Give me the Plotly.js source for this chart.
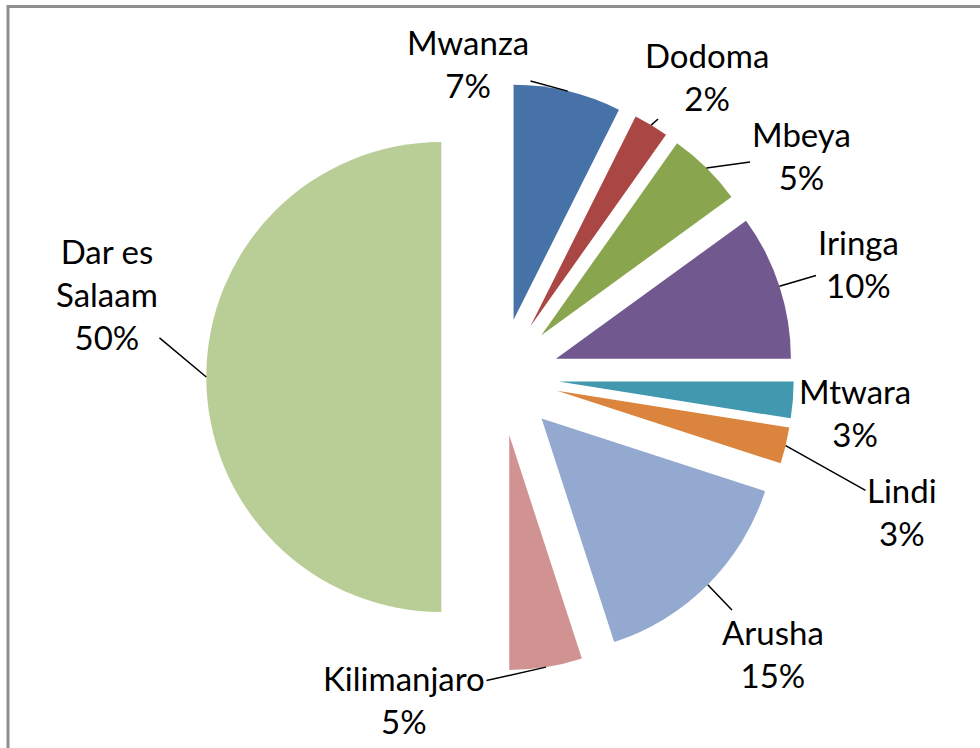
<!DOCTYPE html>
<html>
<head>
<meta charset="utf-8">
<script src="https://cdn.plot.ly/plotly-3.0.1.min.js"></script>
<style>
  html, body { margin: 0; padding: 0; background: #fff; }
  #chart { width: 980px; height: 748px; }
</style>
</head>
<body>
<div id="chart"></div>
<script>
// data (percent share by region; labels show rounded values)
let regions = ["Mwanza", "Dodoma", "Mbeya", "Iringa", "Mtwara", "Lindi", "Arusha", "Kilimanjaro", "Dar es Salaam"];
let shares = [7.4, 2.4, 5.2, 10.0, 2.5, 2.5, 15.0, 5.0, 50.0];
let labelLines = ["Mwanza", "Dodoma", "Mbeya", "Iringa", "Mtwara", "Lindi", "Arusha", "Kilimanjaro", "Dar es<br>Salaam"];
let sliceColors = ["#4672A8", "#AA4643", "#89A54E", "#71588F", "#4198AF", "#DB843D", "#93A9CF", "#D19392", "#B9CD96"];

// label placement (pixel centre of each label block) and which ones get a leader line
let labelPos = [[468, 64], [707, 76], [801, 155], [858, 263], [855, 412], [902, 511], [773, 653], [404, 699], [107, 294]];
let showLeader = [true, true, true, true, false, true, true, true, true];

const W = 980, H = 748;
const pull = 0.25;
const domX = [0.2105, 0.81];
const domY = [0.103, 0.889];

let trace = {
    type: "pie",
    labels: regions,
    values: shares,
    sort: false,
    direction: "clockwise",
    rotation: 0,
    pull: pull,
    textinfo: "none",
    hoverinfo: "label+percent",
    marker: { colors: sliceColors, line: { width: 0 } },
    domain: { x: domX, y: domY },
    showlegend: false
};

// where plotly puts the pie
let cx = W * (domX[0] + domX[1]) / 2;
let cy = H * (1 - (domY[0] + domY[1]) / 2);
let r = Math.min(W * (domX[1] - domX[0]), H * (domY[1] - domY[0])) / (2 * (1 + pull));

let total = shares.reduce((a, b) => a + b, 0);
let annotations = [];
let cum = 0;
for (let i = 0; i < shares.length; i++) {
    let mid = (cum + shares[i] / 2) / total * 2 * Math.PI;
    cum += shares[i];
    let px = cx + (1 + pull) * r * Math.sin(mid);
    let py = cy - (1 + pull) * r * Math.cos(mid);
    annotations.push({
        xref: "paper", yref: "paper",
        x: px / W, y: 1 - py / H,
        ax: labelPos[i][0] - px, ay: labelPos[i][1] - py,
        text: labelLines[i] + "<br>" + Math.round(shares[i] / total * 100) + "%",
        showarrow: true,
        arrowhead: 0,
        arrowwidth: 1.5,
        arrowcolor: showLeader[i] ? "#000000" : "rgba(0,0,0,0)",
        standoff: 0,
        startstandoff: 0,
        align: "center",
        font: { family: "Lato, 'Liberation Sans', sans-serif", size: 33, color: "#000000" }
    });
}

let layout = {
    width: W, height: H,
    margin: { l: 0, r: 0, t: 0, b: 0 },
    paper_bgcolor: "#ffffff",
    annotations: annotations,
    shapes: [{
        type: "rect", xref: "paper", yref: "paper",
        x0: 8 / W, x1: 1.05, y0: -0.05, y1: 1 - 6.5 / H,
        line: { color: "#8f8f8f", width: 3 }
    }]
};

Plotly.newPlot("chart", [trace], layout, { displayModeBar: false });
</script>
</body>
</html>
